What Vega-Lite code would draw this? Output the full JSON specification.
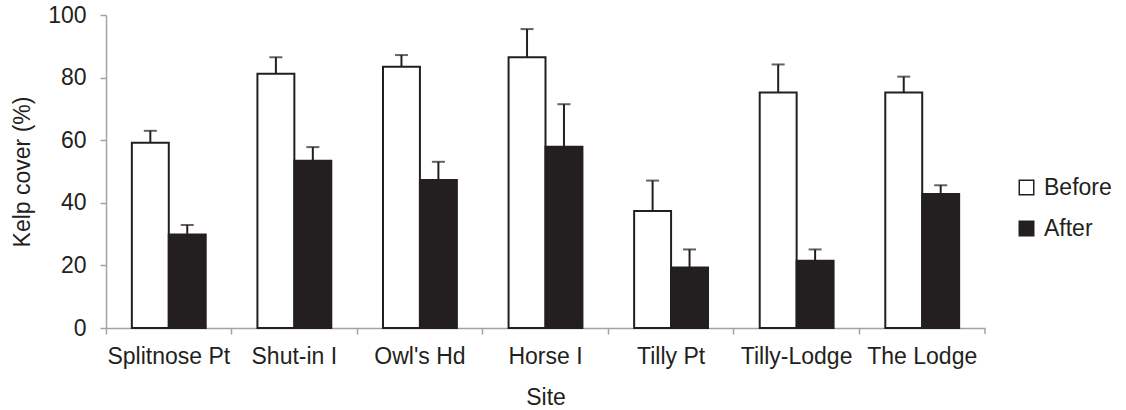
{
  "$schema": "https://vega.github.io/schema/vega-lite/v6.json",
  "width": 879,
  "height": 313,
  "autosize": "none",
  "padding": {"left": 106, "top": 15, "right": 141, "bottom": 82},
  "background": "white",
  "config": {
    "view": {"stroke": null},
    "font": "Liberation Sans",
    "axis": {
      "domainColor": "#a3a3a3",
      "domainWidth": 1.5,
      "tickColor": "#a3a3a3",
      "tickWidth": 1.5,
      "tickSize": 6,
      "grid": false,
      "labelColor": "#231f20",
      "labelFontSize": 23,
      "labelFont": "Liberation Sans",
      "titleColor": "#231f20",
      "titleFontSize": 23,
      "titleFont": "Liberation Sans",
      "titleFontWeight": "normal"
    },
    "legend": {
      "labelColor": "#231f20",
      "labelFontSize": 23,
      "labelFont": "Liberation Sans"
    }
  },
  "data": {
    "values": [
      {"site": "Splitnose Pt", "period": "Before", "cover": 59.2, "upper": 63.0},
      {"site": "Splitnose Pt", "period": "After", "cover": 29.9, "upper": 32.9},
      {"site": "Shut-in I", "period": "Before", "cover": 81.2, "upper": 86.5},
      {"site": "Shut-in I", "period": "After", "cover": 53.4, "upper": 57.8},
      {"site": "Owl's Hd", "period": "Before", "cover": 83.5, "upper": 87.2},
      {"site": "Owl's Hd", "period": "After", "cover": 47.3, "upper": 53.1},
      {"site": "Horse I", "period": "Before", "cover": 86.5, "upper": 95.5},
      {"site": "Horse I", "period": "After", "cover": 57.9, "upper": 71.5},
      {"site": "Tilly Pt", "period": "Before", "cover": 37.4, "upper": 47.1},
      {"site": "Tilly Pt", "period": "After", "cover": 19.3, "upper": 25.1},
      {"site": "Tilly-Lodge", "period": "Before", "cover": 75.2, "upper": 84.2},
      {"site": "Tilly-Lodge", "period": "After", "cover": 21.5, "upper": 25.1},
      {"site": "The Lodge", "period": "Before", "cover": 75.2, "upper": 80.3},
      {"site": "The Lodge", "period": "After", "cover": 42.8, "upper": 45.6}
    ]
  },
  "encoding": {
    "x": {
      "field": "site",
      "type": "nominal",
      "sort": null,
      "scale": {"paddingInner": 0, "paddingOuter": 0},
      "axis": {
        "title": "Site",
        "labelAngle": 0,
        "bandPosition": 0,
        "labelPadding": 11,
        "titlePadding": 18
      }
    },
    "xOffset": {
      "field": "period",
      "type": "nominal",
      "sort": ["Before", "After"],
      "scale": {"paddingInner": 0, "paddingOuter": 0.7}
    }
  },
  "layer": [
    {
      "mark": {"type": "bar", "stroke": "#231f20", "strokeWidth": 2},
      "encoding": {
        "y": {
          "field": "cover",
          "type": "quantitative",
          "scale": {"domain": [0, 100], "nice": false},
          "axis": {
            "title": "Kelp cover (%)",
            "values": [0, 20, 40, 60, 80, 100],
            "labelPadding": 14,
            "titlePadding": 13
          }
        },
        "fill": {
          "field": "period",
          "type": "nominal",
          "sort": ["Before", "After"],
          "scale": {"domain": ["Before", "After"], "range": ["#ffffff", "#231f20"]},
          "legend": {
            "title": null,
            "orient": "none",
            "legendX": 909,
            "legendY": 161,
            "symbolType": "square",
            "symbolSize": 210,
            "symbolStrokeColor": "#231f20",
            "symbolStrokeWidth": 1.5,
            "labelOffset": 6,
            "rowPadding": 17
          }
        }
      }
    },
    {
      "mark": {"type": "rule", "color": "#231f20", "strokeWidth": 2},
      "encoding": {
        "y": {"field": "cover", "type": "quantitative"},
        "y2": {"field": "upper"}
      }
    },
    {
      "mark": {"type": "tick", "orient": "horizontal", "color": "#231f20", "size": 13, "thickness": 2},
      "encoding": {
        "y": {"field": "upper", "type": "quantitative"}
      }
    },
    {
      "transform": [{"filter": "datum.site === 'The Lodge' && datum.period === 'After'"}],
      "mark": {"type": "rule", "color": "#a3a3a3", "strokeWidth": 1.5},
      "encoding": {
        "x": {"field": "site", "type": "nominal", "sort": null, "bandPosition": 1},
        "xOffset": null,
        "y": {"datum": 0, "type": "quantitative"},
        "y2": {"datum": -1.92}
      }
    }
  ]
}
